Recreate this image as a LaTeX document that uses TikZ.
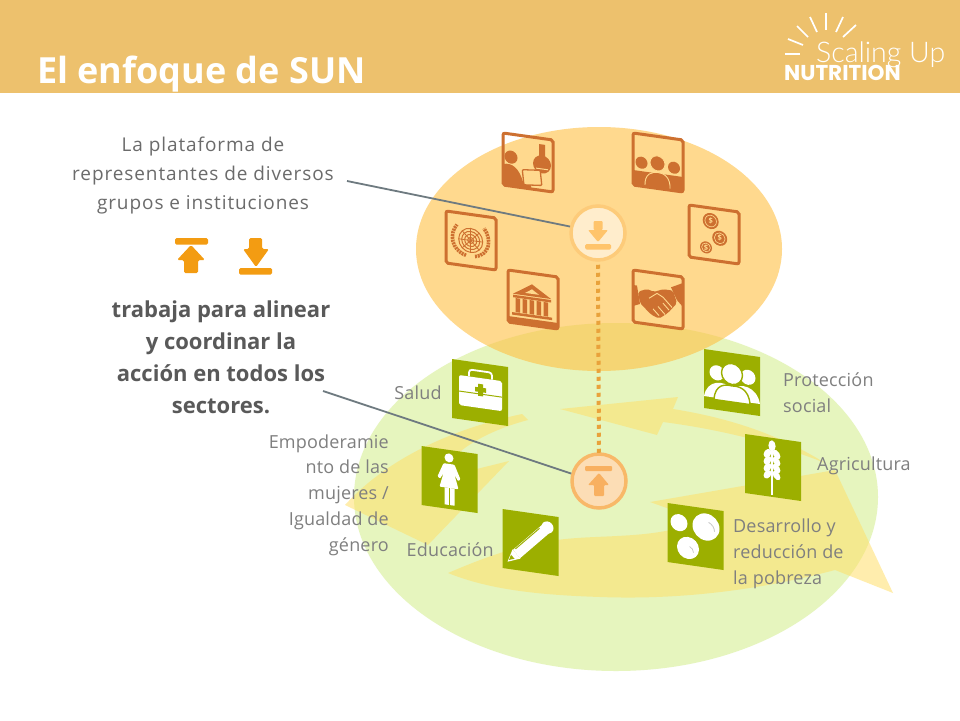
\documentclass[tikz,border=0pt]{standalone}
\usepackage{fontspec}
\setmainfont{Open Sans}
\newfontfamily\logoL{Lato Light}
\newfontfamily\logoB{Poppins}
\definecolor{hdr}{HTML}{EDC16D}
\definecolor{grnell}{HTML}{E6F5BE}
\definecolor{orgell}{HTML}{FFC043}
\definecolor{ylw}{HTML}{FFE06A}
\definecolor{gicon}{HTML}{9CAF00}
\definecolor{oicon}{HTML}{CD7030}
\definecolor{oin}{HTML}{FFD98E}
\definecolor{lbl}{HTML}{7F7F7F}
\definecolor{upt}{HTML}{6B6B6B}
\definecolor{bold}{HTML}{595959}
\definecolor{lead}{HTML}{6E7A80}
\definecolor{dots}{HTML}{E9A23B}
\definecolor{arw}{HTML}{F39C12}
\definecolor{culine}{HTML}{FDCB7A}
\definecolor{cdline}{HTML}{F8B868}
\definecolor{cdfill}{HTML}{FCDDB5}
\definecolor{cuarw}{HTML}{FFC46B}
\definecolor{cdarw}{HTML}{F8B060}
\tikzset{
  ybase/.style={fill=ylw,fill opacity=.55,draw=none},
  lbltext/.style={text=lbl,font=\fontsize{18}{25.7}\selectfont\addfontfeature{LetterSpace=1},inner sep=0pt},
  grnshape/.style={fill=gicon,draw=none},
  whiteshape/.style={fill=white,draw=none},
  oshape/.style={fill=oicon,draw=none},
  oline/.style={draw=oin,line width=.9pt},
  ray/.style={draw=white,line width=1.7pt},
  leader/.style={draw=lead,line width=1.8pt},
}
\newcommand{\gbox}[3]{\begin{scope}[shift={(#1,#2)},yslant=-0.143]
  \fill[grnshape] (0,0) rectangle (56,59);
  #3
\end{scope}}
\newcommand{\obox}[3]{\begin{scope}[shift={(#1,#2)},yslant=-0.14]
  #3
  \draw[oicon,line width=3pt,rounded corners=2pt] (0,0) rectangle (50,52);
\end{scope}}
\begin{document}
\begin{tikzpicture}[x=1pt,y=-1pt]
\useasboundingbox (0,0) rectangle (960,720);
\fill[white] (0,0) rectangle (960,720);
\fill[hdr] (0,0) rectangle (960,93);
\node[anchor=base west,text=white,font=\fontsize{36}{40}\selectfont\bfseries,inner sep=0pt] (title) at (37,83) {El enfoque de SUN};
% logo
\foreach \a/\b/\c/\d in {785/54/800/54,788/39/803/45,797/26/808/37,810/17/817/32,826/13/826/30,843/17/836/32,856/25/843/37}
  \draw[ray] (\a,\b) -- (\c,\d);
\node[anchor=base west,text=white,font=\logoL\fontsize{28.5}{30}\selectfont,inner sep=0pt] (logoa) at (816,62) {Scaling Up};
\node[anchor=base west,text=white,font=\logoB\bfseries\fontsize{21.5}{22}\selectfont,inner sep=0pt] (logob) at (784,80) {NUTRITION};
% ellipses
\fill[grnell] (616,497) ellipse [x radius=262,y radius=174];
% yellow arrows
\fill[ybase] (825,463) .. controls (780,435) and (730,418) .. (673,409) -- (678,397) -- (560,409) -- (657,435) -- (663,422) .. controls (725,430) and (780,445) .. (825,463) -- cycle;
\fill[ybase] (448,573) .. controls (490,555) and (520,545) .. (557,540) .. controls (600,534) and (660,540) .. (700,520) -- (650,502) -- (835,470) -- (893,593) -- (835,570) .. controls (760,590) and (680,600) .. (600,597) .. controls (540,595) and (490,590) .. (448,573) -- cycle;
\fill[ybase] (528,420) -- (522,414) .. controls (470,425) and (395,450) .. (345,505) -- (428,545) -- (509,461) -- (440,478) .. controls (450,450) and (490,430) .. (528,420) -- cycle;
\fill[orgell,fill opacity=.6] (599,249) ellipse [x radius=183,y radius=122];
% green icons
\gbox{452}{359}{
  \fill[whiteshape,rounded corners=2pt] (7,15) rectangle (50,45);
  \draw[white,line width=1.8pt,rounded corners=3pt] (17,15) -- (17,8) -- (40,8) -- (40,15);
  \draw[gicon,line width=1pt] (7,31) -- (50,31);
  \fill[gicon] (26,21) rectangle (31,33);
  \fill[gicon] (23,24.5) rectangle (34,29);
}
\gbox{704}{349}{
  \fill[whiteshape] (13,22) circle (7.5);
  \fill[whiteshape] (44,22) circle (7.5);
  \fill[whiteshape] (0,47) .. controls (3,30) and (20,28) .. (28,36) .. controls (36,28) and (53,30) .. (56,47) -- cycle;
  \draw[fill=white,draw=gicon,line width=1.4pt] (28,21) circle (10.5);
  \draw[fill=white,draw=gicon,line width=1.4pt] (10,49) .. controls (11,33) and (22,32) .. (28,33) .. controls (34,32) and (45,33) .. (46,49) -- cycle;
}
\gbox{745}{434}{
  \draw[white,line width=2pt] (27,12) -- (27,57);
  \fill[whiteshape] (27,8) ellipse [x radius=3.6,y radius=5.5];
  \foreach \q in {16,23,30,37} {
    \fill[whiteshape,rotate around={-35:(22.5,\q)}] (22.5,\q) ellipse [x radius=3.3,y radius=5];
    \fill[whiteshape,rotate around={35:(31.5,\q)}] (31.5,\q) ellipse [x radius=3.3,y radius=5];
  }
}
\gbox{421.5}{446}{
  \fill[whiteshape] (27.5,8) circle (4.5);
  \fill[whiteshape,rounded corners=1pt] (22,14) -- (33,14) -- (39,28) -- (36.5,30) -- (33,24) -- (37,38) -- (18,38) -- (22,24) -- (18.5,30) -- (16,28) -- cycle;
  \fill[whiteshape] (23,38) rectangle (27.3,55);
  \fill[whiteshape] (28.5,38) rectangle (33,55);
}
\gbox{502.5}{509}{
  \draw[white,line width=11pt] (14,43) -- (44,13);
  \fill[whiteshape] (5,52) -- (10,39) -- (18,47) -- cycle;
  \draw[gicon,line width=1pt] (13,38) -- (37,14);
  \fill[gicon] (6.5,50) -- (8.5,44.5) -- (12,48) -- cycle;
  \fill[whiteshape] (45,12) circle (6);
}
\gbox{667.5}{503}{
  \fill[whiteshape] (38.5,18.5) circle (13.5);
  \fill[whiteshape] (11.5,18) circle (8.5);
  \fill[whiteshape] (20.5,42) circle (11);
  \draw[gray!45,line width=.8pt] (47,22) arc (0:-70:9);
  \draw[gray!45,line width=.7pt] (26,46) arc (0:-70:6);
}
% orange icons
\obox{503}{133}{
  \fill[oshape] (8,23) circle (6.5);
  \fill[oshape] (0,31) .. controls (9,28) and (16,33) .. (20,46) -- (28,48) -- (28,51) -- (0,51) -- cycle;
  \fill[oshape] (36,6) rectangle (42,19);
  \fill[oshape] (39,26) circle (9);
  \fill[oin] (33,30) rectangle (45,31);
  \draw[oicon,line width=1.3pt,fill=oin,rounded corners=1pt,rotate around={6:(29,40)}] (20,33) rectangle (38,48);
}
\obox{633}{133}{
  \fill[oshape] (8.5,28.5) circle (6);
  \fill[oshape] (41,29) circle (6);
  \fill[oshape] (0,37) rectangle (50,51);
  \draw[fill=oicon,draw=oin,line width=.9pt] (24.5,27) circle (7.5);
  \draw[fill=oicon,draw=oin,line width=.9pt] (12,52) .. controls (11,38) and (20,36) .. (25,36) .. controls (30,36) and (38,38) .. (37,52);
}
\obox{689}{205}{
  \foreach \u/\v/\r in {21.7/13/8,30.7/29/7.5,17/40/6}{
    \fill[oshape] (\u,\v) circle (\r);
    \draw[oin,line width=.6pt] (\u,\v) circle (\r*.72);
    \node[text=oin,font=\fontsize{7.5}{8}\selectfont\bfseries,inner sep=0pt] at (\u,\v) {\$};
  }
}
\obox{446}{211}{
  \foreach \r in {3,6,9,12}{\draw[oicon,line width=1pt] (24.7,26) circle (\r);}
  \foreach \t in {0,45,...,315}{\draw[oicon,line width=.8pt] (24.7,26) -- ++(\t:12);}
  \draw[oicon,line width=3.6pt,dash pattern=on 2pt off .8pt] (20,41.5) .. controls (5,38) and (3,22) .. (11,12);
  \draw[oicon,line width=3.6pt,dash pattern=on 2pt off .8pt] (29,41.5) .. controls (44,38) and (46,22) .. (38,12);
}
\obox{508}{270}{
  \fill[oshape] (24,11) -- (43,23) -- (5,23) -- cycle;
  \fill[oin] (24,16) -- (31,20.5) -- (17,20.5) -- cycle;
  \fill[oshape] (5,24) rectangle (43,26.5);
  \foreach \u in {7.5,14.5,21.5,28.5,35.5}{\fill[oshape] (\u,27) rectangle ++(4.5,14);}
  \fill[oshape] (4,41.5) rectangle (44,44);
  \fill[oshape] (1,46) rectangle (50,51);
}
\obox{633}{270}{
  \fill[oshape] (0,15) -- (4,15) -- (7,33) -- (0,36) -- cycle;
  \fill[oshape] (50,6) -- (50,30) -- (44,24) -- (38,12) -- cycle;
  \fill[oshape,rounded corners=2pt] (5,21) -- (14,17) -- (21,19) -- (30,15) -- (40,15) -- (44,27) -- (35,38) -- (26,45) -- (18,42) -- (7,32) -- cycle;
  \draw[oline] (16,26) -- (24,20) -- (30,23) -- (39,32);
  \draw[oline] (25,33) -- (32,40);
  \draw[oline] (20,36) -- (26,42);
  \draw[oline] (30,29) -- (36,35);
}
% connectors
\node[circle,minimum size=54pt,inner sep=0pt,draw=culine,line width=3.5pt,fill=white,fill opacity=.55,draw opacity=1] (cu) at (598,233) {};
\node[circle,minimum size=54pt,inner sep=0pt,draw=cdline,line width=3.5pt,fill=cdfill] (cd) at (599,481) {};
\draw[dots,line width=4pt,dash pattern=on 4pt off 4pt] (cu.south) ++(0,3) -- ([yshift=-2pt]cd.north);
\coordinate (la) at (347,181);
\coordinate (lb) at (323,391);
\draw[leader] (la) -- (cu.167);
\draw[leader] (lb) -- (cd.165);
\begin{scope}[shift={(598,233)}]
  \fill[cuarw,rounded corners=1pt] (-4.5,-12) rectangle (4.5,-3);
  \fill[cuarw,rounded corners=1pt] (-10,-3) -- (10,-3) -- (0,9) -- cycle;
  \fill[cuarw,rounded corners=1.5pt] (-13,11) rectangle (13,16.5);
\end{scope}
\begin{scope}[shift={(599,481)}]
  \fill[cdarw,rounded corners=1pt] (-14,-15) rectangle (13,-10);
  \fill[cdarw,rounded corners=1pt] (0,-8) -- (10,4) -- (5,4) -- (5,15) -- (-5,15) -- (-5,4) -- (-11,4) -- cycle;
\end{scope}
% small arrows
\fill[arw,rounded corners=1.5pt] (175,238) rectangle (208,244.5);
\fill[arw,rounded corners=1.5pt] (191,245) -- (205,260) -- (198,260) -- (198,273) -- (184,273) -- (184,260) -- (177,260) -- cycle;
\fill[arw,rounded corners=1.5pt] (249,238) -- (262,238) -- (262,249) -- (269,249) -- (256,267) -- (243,249) -- (249,249) -- cycle;
\fill[arw,rounded corners=1.5pt] (239,268) rectangle (272,274.5);
% texts
\node[align=center,text=upt,inner sep=0pt,font=\fontsize{19}{28.8}\selectfont\addfontfeature{LetterSpace=4.8}] (plat) at (203,175.5) {La plataforma de\\representantes de diversos\\grupos e instituciones};
\node[align=center,text=bold,inner sep=0pt,font=\fontsize{22}{32}\selectfont\bfseries] (trab) at (221,357) {trabaja para alinear\\y coordinar la\\acción en todos los\\sectores.};
\node[lbltext,anchor=center] (salud) at (418,393) {Salud};
\node[lbltext,align=left,anchor=west] (prot) at (783,392.5) {Protección\\social};
\node[lbltext,anchor=west] (agri) at (817,466) {Agricultura};
\node[lbltext,align=left,anchor=west] (desa) at (733,554) {Desarrollo y\\reducción de\\la pobreza};
\node[lbltext,anchor=east] (educ) at (494,550) {Educación};
\node[lbltext,align=right,anchor=east] (empo) at (389,495) {Empoderamie\\nto de las\\mujeres /\\Igualdad de\\género};
\end{tikzpicture}
\end{document}
